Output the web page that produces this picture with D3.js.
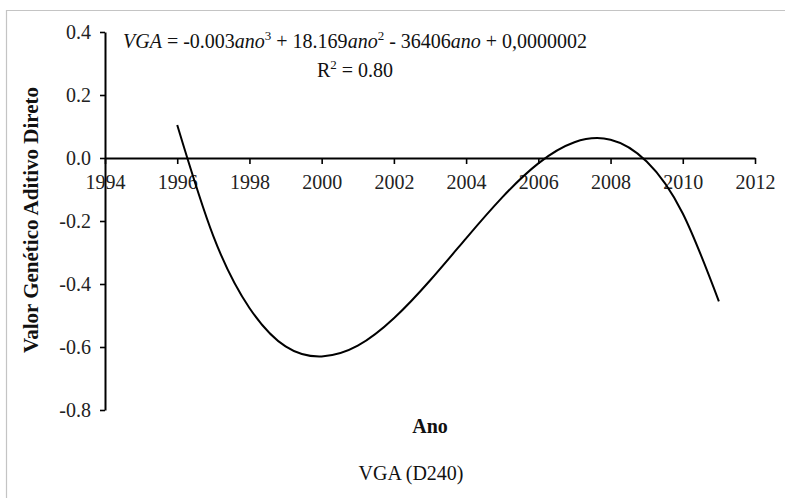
<!DOCTYPE html>
<html>
<head>
<meta charset="utf-8">
<script src="https://cdn.jsdelivr.net/npm/d3@7/dist/d3.min.js"></script>
<style>
  html, body { margin: 0; padding: 0; background: #fff; }
  svg { display: block; font-family: "Liberation Serif", "Times New Roman", serif; }
</style>
</head>
<body>
<svg id="chart" width="785" height="498"></svg>
<script>
// Fitted VGA trend by year (D240)
const years = [1996, 1997, 1998, 1999, 2000, 2001, 2002, 2003, 2004, 2005, 2006, 2007, 2008, 2009, 2010, 2011];
const vga   = [0.105, -0.248, -0.476, -0.598, -0.630, -0.596, -0.509, -0.389, -0.255, -0.125, -0.017, 0.050, 0.058, -0.011, -0.176, -0.455];

const xTicks = [1994, 1996, 1998, 2000, 2002, 2004, 2006, 2008, 2010, 2012];
const yTicks = [-0.8, -0.6, -0.4, -0.2, 0.0, 0.2, 0.4];

const svg = d3.select("#chart");

// outer frame
svg.append("path")
  .attr("d", "M6.5,498 L6.5,10.5 L785,10.5")
  .attr("fill", "none")
  .attr("stroke", "#c4c4c4")
  .attr("stroke-width", 1.2);

const x = d3.scaleLinear().domain([1994, 2012]).range([105, 755]);
const y = d3.scaleLinear().domain([-0.8, 0.4]).range([410, 32]);

// y axis
const yAxis = svg.append("g")
  .attr("transform", `translate(${x(1994)},0)`)
  .call(d3.axisLeft(y).tickValues(yTicks).tickSize(5).tickSizeOuter(0));
yAxis.select(".domain").attr("stroke", "#000").attr("stroke-width", 2);
yAxis.selectAll(".tick line").attr("stroke", "#000").attr("stroke-width", 1.6);
yAxis.selectAll(".tick text")
  .attr("x", -14)
  .attr("font-family", "Liberation Serif")
  .attr("font-size", 20)
  .attr("fill", "#222")
  .text(d => d3.format(".1f")(d).replace("−", "-"));

// x axis on the zero line
const xAxis = svg.append("g")
  .attr("transform", `translate(0,${y(0)})`)
  .call(d3.axisBottom(x).tickValues(xTicks).tickSize(6).tickSizeOuter(0)
    .tickFormat(d3.format("d")));
xAxis.select(".domain").attr("stroke", "#000").attr("stroke-width", 2);
xAxis.selectAll(".tick line").attr("stroke", "#000").attr("stroke-width", 1.6);
xAxis.selectAll(".tick text")
  .attr("y", 17)
  .attr("font-family", "Liberation Serif")
  .attr("font-size", 20)
  .attr("fill", "#222");

// trend curve
const line = d3.line()
  .x((d, i) => x(years[i]))
  .y(d => y(d))
  .curve(d3.curveNatural);

svg.append("path")
  .datum(vga)
  .attr("d", line)
  .attr("fill", "none")
  .attr("stroke", "#000")
  .attr("stroke-width", 2);

// equation and R²
const eqX = 123;
const eq = svg.append("text")
  .attr("x", eqX).attr("y", 48)
  .attr("font-size", 20)
  .attr("fill", "#111");
eq.append("tspan").attr("font-style", "italic").text("VGA");
eq.append("tspan").text(" = -0.003");
eq.append("tspan").attr("font-style", "italic").text("ano");
eq.append("tspan").attr("font-size", 13).attr("dy", -8).text("3");
eq.append("tspan").attr("dy", 8).text(" + 18.169");
eq.append("tspan").attr("font-style", "italic").text("ano");
eq.append("tspan").attr("font-size", 13).attr("dy", -8).text("2");
eq.append("tspan").attr("dy", 8).text(" - 36406");
eq.append("tspan").attr("font-style", "italic").text("ano");
eq.append("tspan").text(" + 0,0000002");

const eqW = eq.node().getComputedTextLength();

const r2 = svg.append("text")
  .attr("x", eqX + eqW / 2).attr("y", 77)
  .attr("text-anchor", "middle")
  .attr("font-size", 20)
  .attr("fill", "#111");
r2.append("tspan").text("R");
r2.append("tspan").attr("font-size", 13).attr("dy", -8).text("2");
r2.append("tspan").attr("dy", 8).text(" = 0.80");

// axis titles
svg.append("text")
  .attr("transform", "translate(38,220) rotate(-90)")
  .attr("text-anchor", "middle")
  .attr("font-size", 21)
  .attr("font-weight", "bold")
  .attr("fill", "#111")
  .text("Valor Genético Aditivo Direto");

svg.append("text")
  .attr("x", 430).attr("y", 433)
  .attr("text-anchor", "middle")
  .attr("font-size", 20)
  .attr("font-weight", "bold")
  .attr("fill", "#111")
  .text("Ano");

svg.append("text")
  .attr("x", 411).attr("y", 480)
  .attr("text-anchor", "middle")
  .attr("font-size", 20)
  .attr("fill", "#111")
  .text("VGA (D240)");
</script>
</body>
</html>
